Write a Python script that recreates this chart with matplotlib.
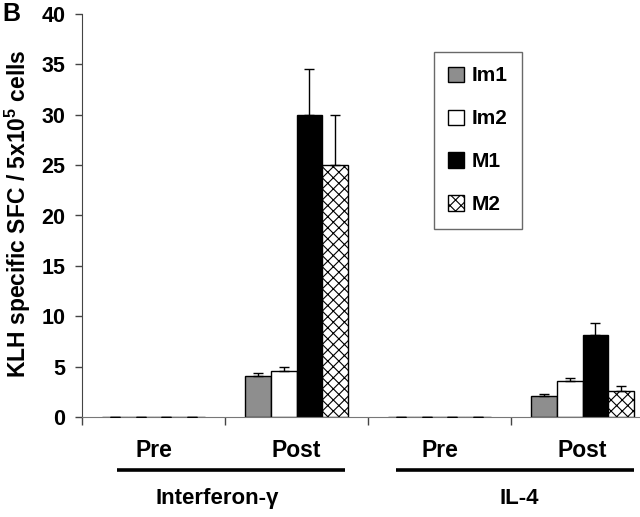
import matplotlib
matplotlib.use("Agg")
import matplotlib.pyplot as plt
import numpy as np

plt.rcParams["font.family"] = ["Liberation Sans", "DejaVu Sans"]
plt.rcParams["font.weight"] = "bold"
plt.rcParams["mathtext.fontset"] = "custom"
plt.rcParams["mathtext.rm"] = "Liberation Sans"
plt.rcParams["mathtext.bf"] = "Liberation Sans:bold"
plt.rcParams["hatch.linewidth"] = 0.8

# data
conditions = ["Pre", "Post", "Pre", "Post"]
cytokines = ["Interferon-\u03b3", "IL-4"]
series = ["Im1", "Im2", "M1", "M2"]
im1 = [0, 4.1, 0, 2.1]
im1_err = [0, 0.3, 0, 0.2]
im2 = [0, 4.6, 0, 3.6]
im2_err = [0, 0.4, 0, 0.3]
m1 = [0, 30.0, 0, 8.1]
m1_err = [0, 4.5, 0, 1.2]
m2 = [0, 25.0, 0, 2.6]
m2_err = [0, 5.0, 0, 0.5]

values = [im1, im2, m1, m2]
errors = [im1_err, im2_err, m1_err, m2_err]
fills = ["#8e8e8e", "white", "black", "white"]
hatches = [None, None, None, "xxx"]

fig = plt.figure(figsize=(6.4, 5.17), dpi=100)
# axis runs past the right edge, as in the original scan
ax = fig.add_axes([82 / 640, 1 - 417 / 517, 572 / 640, 403 / 517])

x = np.arange(len(conditions)) + 0.5
w = 0.18
offsets = (np.arange(len(series)) - 1.5) * w
for vals, errs, fc, hat, off, name in zip(values, errors, fills, hatches, offsets, series):
    ax.bar(x + off, vals, w, color=fc, edgecolor="black", linewidth=1.0,
           hatch=hat, label=name, zorder=2)
    ax.errorbar(x + off, vals, yerr=[np.zeros(len(errs)), errs], fmt="none",
                ecolor="black", elinewidth=1.0, capsize=3.5, capthick=1.0,
                zorder=3)

ax.set_xlim(0, 4)
ax.set_ylim(0, 40)
ax.set_yticks(range(0, 41, 5))
ax.set_xticks(range(0, 5))
ax.set_xticklabels([])
ax.tick_params(axis="y", labelsize=15.5, length=5, width=1, pad=7, color="#444")
ax.tick_params(axis="x", length=6, width=1, color="#444")
for lab in ax.get_yticklabels():
    lab.set_fontweight("bold")
for side in ("top", "right"):
    ax.spines[side].set_visible(False)
ax.spines["left"].set_color("#444")
ax.spines["bottom"].set_color("#777")

ax.set_ylabel(r"KLH specific SFC / 5x10$^{\mathbf{5}}$ cells",
              fontsize=16.5, fontweight="bold")
ax.yaxis.set_label_coords(-49 / 572, 0.505)

leg = ax.legend(loc="upper left", bbox_to_anchor=(0.615, 0.906),
                fontsize=15, frameon=True, fancybox=False, edgecolor="#444",
                handlelength=0.75, handleheight=0.75, handletextpad=0.35,
                labelspacing=1.15, borderpad=0.7, borderaxespad=0)
leg.get_frame().set_linewidth(1.0)
for t in leg.get_texts():
    t.set_fontweight("bold")

# condition labels, group bars and cytokine names below the axis
tr = ax.get_xaxis_transform()
for xi, c in zip(x, conditions):
    ax.text(xi, -0.084, c, transform=tr, ha="center", va="center",
            fontsize=16.5, fontweight="bold")
groups = [(0.245, 1.84, 0.944), (2.196, 3.86, 3.06)]
for (x0, x1, xc), name in zip(groups, cytokines):
    ax.plot([x0, x1], [-0.1315, -0.1315], transform=tr, color="black",
            lw=2.6, clip_on=False, solid_capstyle="butt")
    ax.text(xc, -0.203, name, transform=tr, ha="center", va="center",
            fontsize=16, fontweight="bold")

fig.text(0.004, 0.997, "B", ha="left", va="top", fontsize=18, fontweight="bold")

fig.savefig("out.png", dpi=100)
